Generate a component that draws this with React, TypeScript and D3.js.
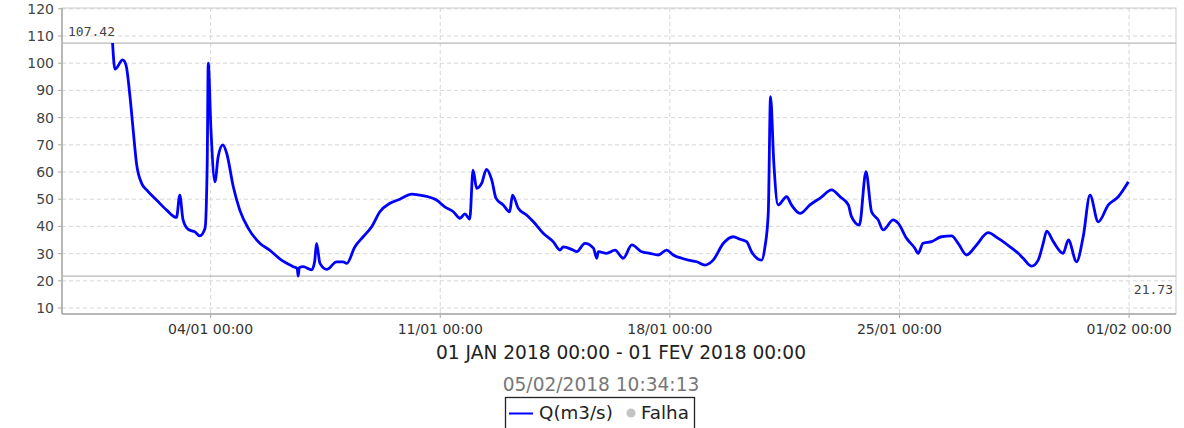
import React from "react";
import * as d3 from "d3";

// Flow readings (Q, m3/s), January 2018
const times = [
  "2018-01-01T00:15", "2018-01-01T02:00", "2018-01-01T07:40", "2018-01-01T10:05",
  "2018-01-01T13:00", "2018-01-01T15:20", "2018-01-01T17:45", "2018-01-01T21:35",
  "2018-01-02T01:10", "2018-01-02T08:25", "2018-01-02T15:50", "2018-01-02T23:00",
  "2018-01-03T01:25", "2018-01-03T03:50", "2018-01-03T07:40", "2018-01-03T12:30",
  "2018-01-03T16:05", "2018-01-03T19:55", "2018-01-03T21:30", "2018-01-03T22:15",
  "2018-01-04T00:15", "2018-01-04T03:10", "2018-01-04T05:30", "2018-01-04T08:55",
  "2018-01-04T11:45", "2018-01-04T16:35", "2018-01-04T21:20", "2018-01-05T03:35",
  "2018-01-05T12:00", "2018-01-05T19:10", "2018-01-06T03:50", "2018-01-06T12:30",
  "2018-01-06T15:20", "2018-01-06T16:05", "2018-01-06T16:50", "2018-01-06T19:40",
  "2018-01-07T01:55", "2018-01-07T04:05", "2018-01-07T05:30", "2018-01-07T08:00",
  "2018-01-07T13:00", "2018-01-07T20:10", "2018-01-08T01:00", "2018-01-08T03:35",
  "2018-01-08T09:35", "2018-01-08T15:35", "2018-01-08T21:50", "2018-01-09T03:50",
  "2018-01-09T11:15", "2018-01-09T18:30", "2018-01-10T03:10", "2018-01-10T09:10",
  "2018-01-10T15:10", "2018-01-10T21:20", "2018-01-11T03:20", "2018-01-11T09:35",
  "2018-01-11T14:25", "2018-01-11T18:00", "2018-01-11T21:35", "2018-01-12T00:00",
  "2018-01-12T02:40", "2018-01-12T06:15", "2018-01-12T09:50", "2018-01-12T13:40",
  "2018-01-12T16:50", "2018-01-12T22:05", "2018-01-13T02:50", "2018-01-13T04:50",
  "2018-01-13T09:05", "2018-01-13T15:10", "2018-01-13T20:10", "2018-01-14T03:20",
  "2018-01-14T10:35", "2018-01-14T15:35", "2018-01-14T18:00", "2018-01-15T01:10",
  "2018-01-15T03:50", "2018-01-15T09:50", "2018-01-15T16:05", "2018-01-15T18:30",
  "2018-01-15T19:40", "2018-01-16T01:40", "2018-01-16T07:55", "2018-01-16T13:55",
  "2018-01-16T20:10", "2018-01-17T03:20", "2018-01-17T09:20", "2018-01-17T15:35",
  "2018-01-17T21:35", "2018-01-18T02:25", "2018-01-18T08:40", "2018-01-18T13:25",
  "2018-01-18T19:40", "2018-01-19T01:40", "2018-01-19T07:40", "2018-01-19T15:10",
  "2018-01-19T22:20", "2018-01-20T03:20", "2018-01-20T08:10", "2018-01-20T11:45",
  "2018-01-20T19:10", "2018-01-20T21:35", "2018-01-21T00:00", "2018-01-21T01:40",
  "2018-01-21T04:05", "2018-01-21T07:10", "2018-01-21T13:25", "2018-01-21T17:00",
  "2018-01-21T23:15", "2018-01-22T06:30", "2018-01-22T14:25", "2018-01-22T22:20",
  "2018-01-23T04:35", "2018-01-23T10:35", "2018-01-23T12:55", "2018-01-23T18:40",
  "2018-01-23T23:30", "2018-01-24T03:35", "2018-01-24T08:25", "2018-01-24T12:00",
  "2018-01-24T19:25", "2018-01-24T23:00", "2018-01-25T05:15", "2018-01-25T11:15",
  "2018-01-25T13:40", "2018-01-25T17:15", "2018-01-25T23:30", "2018-01-26T06:40",
  "2018-01-26T14:10", "2018-01-26T18:55", "2018-01-27T01:10", "2018-01-27T08:25",
  "2018-01-27T16:50", "2018-01-28T00:15", "2018-01-28T08:55", "2018-01-28T14:55",
  "2018-01-28T18:30", "2018-01-29T00:45", "2018-01-29T05:30", "2018-01-29T09:10",
  "2018-01-29T11:45", "2018-01-29T16:35", "2018-01-29T23:45", "2018-01-30T03:35",
  "2018-01-30T09:35", "2018-01-30T14:25", "2018-01-30T19:25", "2018-01-31T01:25",
  "2018-01-31T08:50", "2018-01-31T16:05", "2018-01-31T23:30",
];

const flows = [
  107.42, 97.8, 101.2, 99.3, 87.7, 75.4, 63.2, 55.8,
  53.4, 49.7, 46.0, 43.3, 51.5, 42.4, 38.9, 38.0,
  36.5, 39.3, 63.3, 100.0, 75.4, 56.4, 65.6, 70.0,
  66.9, 54.6, 46.0, 39.3, 33.8, 31.3, 27.6, 25.2,
  24.5, 21.73, 24.8, 25.2, 24.0, 27.0, 33.8, 26.4,
  24.2, 27.0, 27.0, 26.4, 32.5, 36.2, 39.9, 45.4,
  48.5, 50.0, 51.9, 51.5, 50.9, 49.7, 47.2, 45.4,
  43.0, 44.6, 42.7, 60.7, 54.0, 55.8, 61.0, 57.1,
  50.3, 47.9, 45.4, 51.5, 46.7, 44.2, 41.7, 37.5,
  34.4, 31.3, 32.5, 31.3, 30.7, 33.8, 32.0, 28.3,
  30.7, 30.1, 31.3, 28.3, 33.2, 30.7, 30.1, 29.5,
  31.3, 29.5, 28.3, 27.6, 27.0, 25.8, 27.6, 33.8,
  36.2, 35.3, 34.4, 30.7, 27.6, 32.5, 44.8, 87.7,
  63.2, 47.9, 50.9, 47.9, 44.8, 47.9, 50.6, 53.4,
  50.9, 47.9, 43.6, 40.5, 60.1, 45.4, 42.4, 38.7,
  42.4, 41.2, 35.6, 32.0, 30.1, 33.8, 34.4, 36.2,
  36.5, 33.8, 29.5, 33.2, 37.7, 35.6, 32.5, 30.1,
  28.3, 25.4, 27.6, 33.8, 38.3, 34.4, 30.1, 35.0,
  27.0, 36.2, 51.5, 41.7, 47.9, 50.9, 56.4,
];

const yTicks = [10, 20, 30, 40, 50, 60, 70, 80, 90, 100, 110, 120];
const xTicks = ["2018-01-04T00:00", "2018-01-11T00:00", "2018-01-18T00:00", "2018-01-25T00:00", "2018-02-01T00:00"];
const xDomain = ["2017-12-30T11:15", "2018-02-02T10:20"];
const markers = [107.42, 21.73];

const title = "01 JAN 2018 00:00 - 01 FEV 2018 00:00";
const subtitle = "05/02/2018 10:34:13";

const W = 1184;
const H = 428;
const plot = { left: 62, right: 1176, top: 8, bottom: 314 };
const font = "'DejaVu Sans', sans-serif";

const parse = d3.utcParse("%Y-%m-%dT%H:%M");
const fmt = d3.utcFormat("%d/%m %H:%M");

export default function App() {
  const x = d3
    .scaleUtc()
    .domain(xDomain.map((t) => parse(t) as Date))
    .range([plot.left, plot.right]);
  const y = d3.scaleLinear().domain([7.8, 120.3]).range([plot.bottom, plot.top]);

  const data = times.map((t, i) => ({ t: parse(t) as Date, v: flows[i] }));
  const line = d3
    .line<{ t: Date; v: number }>()
    .x((d) => x(d.t))
    .y((d) => y(d.v))
    .curve(d3.curveMonotoneX);

  const ticks = xTicks.map((t) => parse(t) as Date);
  const midPlot = (plot.left + plot.right) / 2;

  return (
    <svg
      width={W}
      height={H}
      style={{ position: "absolute", left: 0, top: 0, background: "#fff" }}
      fontFamily={font}
    >
      {/* grid */}
      {yTicks.map((v) => (
        <line
          key={"gy" + v}
          x1={plot.left}
          x2={plot.right}
          y1={y(v)}
          y2={y(v)}
          stroke="#d6d6d6"
          strokeDasharray="4,3"
        />
      ))}
      {ticks.map((t, i) => (
        <line
          key={"gx" + i}
          x1={x(t)}
          x2={x(t)}
          y1={plot.top}
          y2={plot.bottom}
          stroke="#d6d6d6"
          strokeDasharray="4,3"
        />
      ))}

      {/* plot outline */}
      <rect
        x={plot.left}
        y={plot.top}
        width={plot.right - plot.left}
        height={plot.bottom - plot.top}
        fill="none"
        stroke="#cccccc"
      />
      <line x1={plot.left} x2={plot.left} y1={plot.top} y2={plot.bottom} stroke="#a8a8a8" strokeWidth={1.5} />
      <line x1={plot.left} x2={plot.right} y1={plot.bottom} y2={plot.bottom} stroke="#a8a8a8" strokeWidth={1.5} />

      {/* max / min markers */}
      {markers.map((v) => (
        <line
          key={"m" + v}
          x1={plot.left}
          x2={plot.right}
          y1={y(v)}
          y2={y(v)}
          stroke="#b8b8b8"
          strokeWidth={1.3}
        />
      ))}
      <text x={68} y={36} fontSize={13} fontFamily="'DejaVu Sans Mono', monospace" fill="#444">
        {markers[0].toFixed(2)}
      </text>
      <text x={1173} y={294} fontSize={13} fontFamily="'DejaVu Sans Mono', monospace" fill="#444" textAnchor="end">
        {markers[1].toFixed(2)}
      </text>

      {/* y axis */}
      {yTicks.map((v) => (
        <g key={"ty" + v}>
          <line x1={plot.left - 4} x2={plot.left} y1={y(v)} y2={y(v)} stroke="#a8a8a8" />
          <text x={54} y={y(v)} dy="0.36em" textAnchor="end" fontSize={14} fill="#444">
            {v}
          </text>
        </g>
      ))}

      {/* x axis */}
      {ticks.map((t, i) => (
        <g key={"tx" + i}>
          <line x1={x(t)} x2={x(t)} y1={plot.bottom} y2={plot.bottom + 4} stroke="#a8a8a8" />
          <text x={x(t)} y={334} textAnchor="middle" fontSize={14} fill="#333">
            {fmt(t)}
          </text>
        </g>
      ))}

      {/* series */}
      <path d={line(data) || ""} fill="none" stroke="#0000ff" strokeWidth={2.8} strokeLinejoin="round" />

      {/* titles */}
      <text x={midPlot + 2} y={359} textAnchor="middle" fontSize={18.6} fill="#222">
        {title}
      </text>
      <text x={601} y={391} textAnchor="middle" fontSize={18.6} fill="#777">
        {subtitle}
      </text>

      {/* legend */}
      <rect x={505.5} y={397.5} width={189} height={40} fill="#fff" stroke="#222" strokeWidth={1.3} />
      <line x1={509} x2={533} y1={413.5} y2={413.5} stroke="#0000ff" strokeWidth={2} />
      <text x={539} y={419} fontSize={18.3} fill="#222">
        Q(m3/s)
      </text>
      <circle cx={631} cy={413} r={4.5} fill="#c4c4c4" />
      <text x={641} y={419} fontSize={18.3} fill="#222">
        Falha
      </text>
    </svg>
  );
}
